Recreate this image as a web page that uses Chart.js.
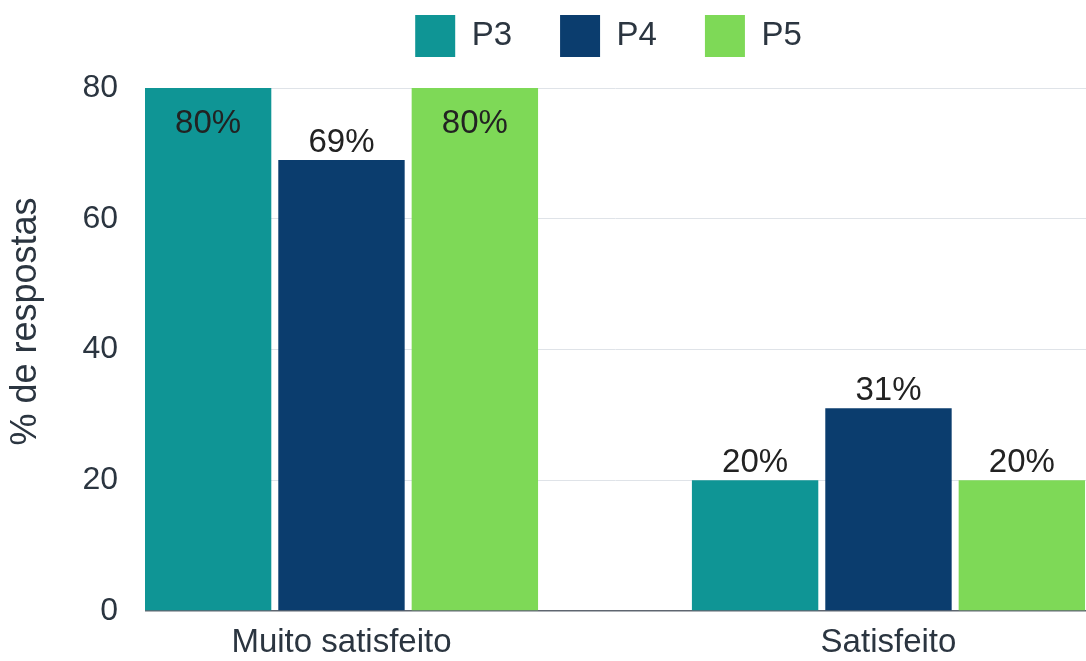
<!DOCTYPE html>
<html>
<head>
<meta charset="utf-8">
<script src="https://cdn.jsdelivr.net/npm/chart.js@4.4.1/dist/chart.umd.min.js"></script>
<style>
  html, body { margin: 0; padding: 0; background: #ffffff; }
  #wrap { width: 1086px; height: 661px; position: relative; }
</style>
</head>
<body>
<div id="wrap"><canvas id="c"></canvas></div>
<script>
const categories = ["Muito satisfeito", "Satisfeito"];
const seriesNames = ["P3", "P4", "P5"];
const valuesP3 = [80, 20];
const valuesP4 = [69, 31];
const valuesP5 = [80, 20];
const yTicks = [0, 20, 40, 60, 80];

const colors = ["#0f9595", "#0b3d6e", "#7ed957"];
const FONT = "'Liberation Sans', Arial, sans-serif";
const TEXT = "#2b3540";

const legendTweak = {
  id: 'legendTweak',
  afterInit(chart) {
    const lg = chart.legend;
    if (!lg) return;
    const origFit = lg.fit;
    lg.fit = function () {
      origFit.call(this);
      this.height += 21;
      if (this.lineWidths && this.lineWidths.length) this.lineWidths[0] += 14;
    };
  }
};

const dataLabels = {
  id: 'dataLabels',
  afterDatasetsDraw(chart) {
    const ctx = chart.ctx;
    const top = chart.chartArea.top;
    ctx.save();
    ctx.font = "33px " + FONT;
    ctx.fillStyle = "#222222";
    ctx.textAlign = "center";
    ctx.textBaseline = "alphabetic";
    chart.data.datasets.forEach((ds, di) => {
      const meta = chart.getDatasetMeta(di);
      meta.data.forEach((bar, i) => {
        const txt = ds.data[i] + "%";
        let y = bar.y - 8;
        if (y - 26 < top) y = bar.y + 45;
        ctx.fillText(txt, bar.x, y);
      });
    });
    ctx.restore();
  }
};

new Chart(document.getElementById('c'), {
  type: 'bar',
  data: {
    labels: categories,
    datasets: [
      { label: seriesNames[0], data: valuesP3, backgroundColor: colors[0] },
      { label: seriesNames[1], data: valuesP4, backgroundColor: colors[1] },
      { label: seriesNames[2], data: valuesP5, backgroundColor: colors[2] }
    ]
  },
  options: {
    responsive: true,
    maintainAspectRatio: false,
    animation: false,
    devicePixelRatio: 1,
    layout: { padding: { top: -33, right: 0, bottom: -13, left: 0 } },
    datasets: { bar: { categoryPercentage: 0.7315, barPercentage: 0.9476 } },
    plugins: {
      legend: {
        position: 'top',
        fullSize: false,
        labels: {
          boxWidth: 40,
          boxHeight: 42,
          padding: 48,
          color: TEXT,
          font: { family: FONT, size: 33 }
        }
      },
      tooltip: { enabled: false },
      title: { display: false }
    },
    scales: {
      x: {
        grid: { display: false, drawTicks: false },
        border: { display: false },
        ticks: { color: TEXT, padding: 15, font: { family: FONT, size: 33, lineHeight: 1 } },
        afterBuildTicks(scale) {
          scale._startValue = -0.3592;
          scale._valueRange = 1.7203;
        }
      },
      y: {
        min: 0,
        max: 80,
        afterBuildTicks(scale) {
          scale.ticks = yTicks.map(v => ({ value: v }));
        },
        afterFit(scale) {
          scale.width = 145;
          if (!scale._titleShifted) {
            scale._titleShifted = true;
            const origDrawTitle = scale.drawTitle;
            scale.drawTitle = function () {
              const ctx = this.ctx;
              ctx.save();
              ctx.translate(0, -28);
              origDrawTitle.apply(this, arguments);
              ctx.restore();
            };
          }
        },
        grid: {
          drawTicks: false,
          color: ctx => (ctx.tick && ctx.tick.value === 0) ? '#5f6670' : '#dfe3e8',
          lineWidth: ctx => (ctx.tick && ctx.tick.value === 0) ? 1.5 : 1
        },
        border: { display: false },
        ticks: { color: TEXT, padding: 27, font: { family: FONT, size: 32 } },
        title: {
          display: true,
          text: '% de respostas',
          color: TEXT,
          padding: { top: 4, bottom: 0 },
          font: { family: FONT, size: 36 }
        }
      }
    }
  },
  plugins: [legendTweak, dataLabels]
});
</script>
</body>
</html>
